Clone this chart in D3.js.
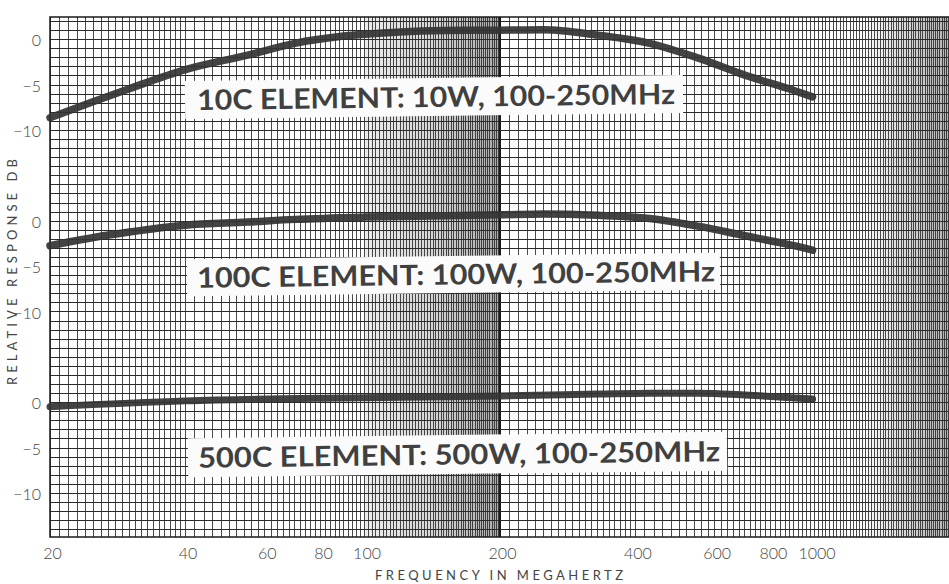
<!DOCTYPE html>
<html>
<head>
<meta charset="utf-8">
<script src="https://cdn.jsdelivr.net/npm/d3@7"></script>
<style>
  html, body { margin: 0; padding: 0; background: #ffffff; }
  svg { display: block; }
</style>
</head>
<body>
<svg id="chart" width="949" height="584"></svg>
<script>
// ---------------- DATA ----------------
const freqTicks = [20, 40, 60, 80, 100, 200, 400, 600, 800, 1000];
const dbTicks = [0, -5, -10];
const panelNames = ["10C ELEMENT: 10W, 100-250MHz", "100C ELEMENT: 100W, 100-250MHz", "500C ELEMENT: 500W, 100-250MHz"];

const freq10C = [20, 25, 30, 40, 55, 70, 90, 120, 150, 200, 250, 330, 430, 550, 700, 900, 990];
const db10C   = [-8.6, -6.8, -5.4, -3.3, -1.7, -0.4, 0.4, 0.85, 1.0, 1.05, 1.1, 0.5, -0.4, -2.0, -3.9, -5.6, -6.3];

const freq100C = [20, 25, 30, 40, 55, 70, 100, 150, 200, 250, 330, 430, 550, 700, 900, 990];
const db100C   = [-2.7, -1.8, -1.2, -0.45, -0.1, 0.2, 0.45, 0.6, 0.7, 0.8, 0.65, 0.3, -0.55, -1.6, -2.7, -3.2];

const freq500C = [20, 40, 80, 120, 200, 330, 430, 550, 700, 850, 990];
const db500C   = [-0.45, 0.2, 0.5, 0.6, 0.75, 0.95, 1.05, 1.05, 0.85, 0.6, 0.4];

const xLabel = "FREQUENCY IN MEGAHERTZ";
const yLabel = "RELATIVE RESPONSE DB";

// ---------------- LAYOUT ----------------
const W = 949, H = 584;
const pLeft = 50, pRight = 950, pTop = 17, pBottom = 537;
const panelOffsets = [0, -20, -40];          // each panel is 20 dB lower on the paper
const series = [
  {f: freq10C, d: db10C},
  {f: freq100C, d: db100C},
  {f: freq500C, d: db500C}
];

const svg = d3.select("#chart");
const x = d3.scaleLog().domain([20, 2000]).range([pLeft, pRight]);
const yBase = d3.scaleLinear().domain([2.5, -54.8]).range([pTop, pBottom]);
const yPanel = i => d3.scaleLinear()
  .domain([0, -10])
  .range([yBase(panelOffsets[i]), yBase(panelOffsets[i] - 10)]);

svg.append("rect").attr("width", W).attr("height", H).attr("fill", "#ffffff");

const defs = svg.append("defs");
const band = defs.append("linearGradient").attr("id", "band").attr("x1", "0").attr("x2", "1").attr("y1", "0").attr("y2", "0");
band.append("stop").attr("offset", "0").attr("stop-color", "#444").attr("stop-opacity", 0.10);
band.append("stop").attr("offset", "0.5").attr("stop-color", "#444").attr("stop-opacity", 0.22);
band.append("stop").attr("offset", "1").attr("stop-color", "#444").attr("stop-opacity", 0.45);
const edge = defs.append("linearGradient").attr("id", "edge").attr("x1", "0").attr("x2", "1").attr("y1", "0").attr("y2", "0");
edge.append("stop").attr("offset", "0").attr("stop-color", "#555").attr("stop-opacity", 0);
edge.append("stop").attr("offset", "1").attr("stop-color", "#555").attr("stop-opacity", 0.45);

// ---------------- LOG GRAPH PAPER ----------------
const gridV = [];
[10, 100, 1000].forEach(b => {
  for (let i = 0; i < 50; i++) gridV.push(b * (1 + i * 0.02));
  for (let i = 0; i < 20; i++) gridV.push(b * (2 + i * 0.1));
  for (let i = 0; i < 30; i++) gridV.push(b * (4 + i * 0.2));
});
const vLines = gridV.filter(v => v >= 20 - 1e-9 && v <= 2000 + 1e-9);
const hLines = d3.range(2, -55, -1);

// print shading of the dense 100-200 band and the right edge
svg.append("rect")
  .attr("x", x(100)).attr("y", pTop)
  .attr("width", x(200) - x(100)).attr("height", pBottom - pTop)
  .attr("fill", "url(#band)");
svg.append("rect").attr("x", 860).attr("y", pTop).attr("width", W - 860).attr("height", pBottom - pTop)
  .attr("fill", "url(#edge)");

const grid = svg.append("g").attr("class", "grid");
grid.selectAll("line.h").data(hLines).join("line")
  .attr("class", "h")
  .attr("x1", pLeft).attr("x2", W)
  .attr("y1", d => yBase(d)).attr("y2", d => yBase(d))
  .attr("stroke", "#2a2a2a").attr("stroke-width", 1)
  .attr("shape-rendering", "crispEdges");
grid.selectAll("line.v").data(vLines).join("line")
  .attr("class", "v")
  .attr("x1", d => x(d)).attr("x2", d => x(d))
  .attr("y1", pTop).attr("y2", pBottom)
  .attr("stroke", "#2a2a2a").attr("stroke-width", 1)
  .attr("stroke-opacity", 0.85)
  .attr("shape-rendering", "crispEdges");
grid.append("line")
  .attr("x1", x(200)).attr("x2", x(200))
  .attr("y1", pTop).attr("y2", pBottom)
  .attr("stroke", "#1a1a1a").attr("stroke-width", 2)
  .attr("shape-rendering", "crispEdges");
grid.append("rect")
  .attr("x", pLeft).attr("y", pTop)
  .attr("width", pRight - pLeft).attr("height", pBottom - pTop)
  .attr("fill", "none").attr("stroke", "#1a1a1a").attr("stroke-width", 1.5);

// ---------------- CURVES ----------------
const curves = svg.append("g");
series.forEach((s, i) => {
  const y = yPanel(i);
  const line = d3.line()
    .x((d, j) => x(s.f[j]))
    .y(d => y(d))
    .curve(d3.curveMonotoneX);
  curves.append("path")
    .attr("d", line(s.d))
    .attr("fill", "none")
    .attr("stroke", "#333")
    .attr("stroke-width", i === 2 ? 7 : 7.5)
    .attr("stroke-linecap", "round")
    .attr("stroke-opacity", 0.92);
});

// ---------------- PANEL TITLES (pasted labels) ----------------
const boxes = [
  {x0: 185, x1: 683, y0: 78, y1: 116, tx: 197, tw: 478},
  {x0: 187, x1: 720, y0: 256, y1: 293, tx: 197, tw: 518},
  {x0: 188, x1: 727, y0: 435, y1: 474, tx: 198, tw: 522}
];
boxes.forEach((b, i) => {
  const g = svg.append("g")
    .attr("transform", `rotate(-0.7, ${(b.x0 + b.x1) / 2}, ${(b.y0 + b.y1) / 2})`);
  g.append("rect")
    .attr("x", b.x0).attr("y", b.y0)
    .attr("width", b.x1 - b.x0).attr("height", b.y1 - b.y0)
    .attr("fill", "#fbfbfb");
  g.append("text")
    .attr("x", b.tx).attr("y", (b.y0 + b.y1) / 2 + 10)
    .attr("textLength", b.tw).attr("lengthAdjust", "spacingAndGlyphs")
    .attr("font-family", "Lato, 'Open Sans', sans-serif")
    .attr("font-weight", 700)
    .attr("font-size", 28)
    .attr("fill", "#404040")
    .text(panelNames[i]);
});

// ---------------- AXES ----------------
const tickFont = "Lato, 'DejaVu Sans', sans-serif";
const xAxis = d3.axisBottom(x).tickValues(freqTicks).tickFormat(d3.format("d")).tickSize(0).tickPadding(0);
const gx = svg.append("g").attr("transform", "translate(2, 559)").call(xAxis);
gx.select(".domain").remove();
gx.selectAll("text")
  .attr("dy", 0)
  .attr("font-family", tickFont).attr("font-weight", 300)
  .attr("font-size", 16).attr("fill", "#444");

panelOffsets.forEach((o, i) => {
  const yAxis = d3.axisLeft(yPanel(i)).tickValues(dbTicks).tickFormat(d3.format("d")).tickSize(0).tickPadding(0);
  const gy = svg.append("g").attr("transform", "translate(41, 1)").call(yAxis);
  gy.select(".domain").remove();
  gy.selectAll("text")
    .attr("font-family", tickFont).attr("font-weight", 300)
    .attr("font-size", 16).attr("fill", "#444");
});

svg.append("text")
  .attr("x", 499).attr("y", 580)
  .attr("text-anchor", "middle")
  .attr("textLength", 248).attr("lengthAdjust", "spacing")
  .attr("font-family", tickFont).attr("font-weight", 400)
  .attr("font-size", 13).attr("fill", "#444")
  .text(xLabel);

svg.append("text")
  .attr("transform", "translate(17, 272) rotate(-90)")
  .attr("text-anchor", "middle")
  .attr("textLength", 226).attr("lengthAdjust", "spacing")
  .attr("font-family", tickFont).attr("font-weight", 400)
  .attr("font-size", 13).attr("fill", "#444")
  .text(yLabel);
</script>
</body>
</html>
